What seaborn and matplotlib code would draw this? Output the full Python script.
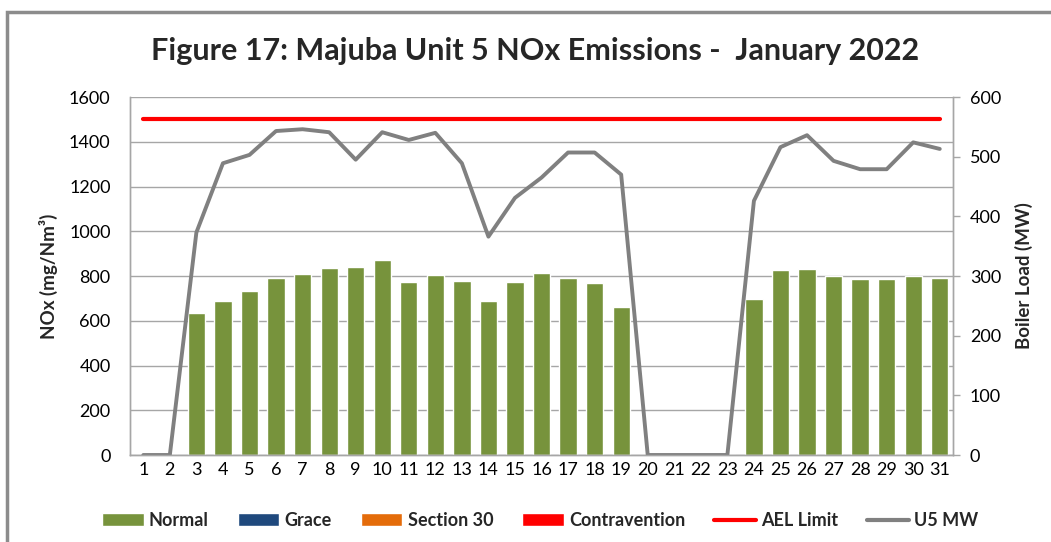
"""Majuba Unit 5 NOx emissions, January 2022: daily NOx bars with boiler load line."""

import matplotlib

matplotlib.use("Agg")
import matplotlib.pyplot as plt
import pandas as pd
import seaborn as sns
from matplotlib.lines import Line2D
from matplotlib.patches import Patch, Rectangle

# --- data ---
days = list(range(1, 32))
nox_normal = [0, 0, 633, 687, 733, 791, 809, 837, 841, 871, 773, 804, 777, 687, 773,
              813, 791, 768, 660, 0, 0, 0, 0, 696, 827, 831, 800, 786, 786, 800, 791]
u5_mw = [0, 0, 373, 489, 503, 543, 546, 541, 495, 541, 528, 540, 489, 366, 431,
         465, 507, 507, 470, 0, 0, 0, 0, 426, 516, 536, 493, 479, 479, 524, 513]
ael_limit = [1500] * 31

nox_ticks = [0, 200, 400, 600, 800, 1000, 1200, 1400, 1600]
mw_ticks = [0, 100, 200, 300, 400, 500, 600]

GREEN = "#77933C"
NAVY = "#1F497D"
ORANGE = "#E46C0A"
RED = "#FF0000"
GREY = "#808080"
GRID = "#A6A6A6"

sns.set_theme(style="white")
plt.rcParams["font.family"] = ["Lato", "DejaVu Sans"]

df = pd.DataFrame({"day": days, "nox": nox_normal, "mw": u5_mw, "ael": ael_limit})

fig = plt.figure(figsize=(10.51, 5.42), dpi=100)
ax = fig.add_axes([0.1237, 0.1605, 0.7831, 0.6605])

sns.barplot(data=df, x="day", y="nox", native_scale=True, color=GREEN,
            saturation=1, width=0.65, ax=ax, zorder=2)
sns.lineplot(data=df, x="day", y="ael", color=RED, linewidth=3.0, ax=ax, zorder=3)

ax2 = ax.twinx()
sns.lineplot(data=df, x="day", y="mw", color=GREY, linewidth=2.8, ax=ax2)

ax.set_xlim(0.5, 31.5)
ax.set_ylim(0, 1600)
ax2.set_ylim(0, 600)
ax.set_xticks(days)
ax.set_xticklabels([str(d) for d in days])
ax.set_yticks(nox_ticks)
ax2.set_yticks(mw_ticks)

ax.yaxis.grid(True, color=GRID, linewidth=1)
ax.set_axisbelow(True)

for a in (ax, ax2):
    a.spines["top"].set_visible(False)
    for side in ("left", "right", "bottom"):
        a.spines[side].set_color(GRID)
        a.spines[side].set_linewidth(1)

ax.tick_params(axis="x", length=0, labelsize=13, pad=5, colors="black")
ax.tick_params(axis="y", length=0, labelsize=13, pad=14, colors="black")
ax2.tick_params(axis="y", length=5, width=1, color=GRID, labelsize=13, pad=7,
                labelcolor="black")

ax.set_xlabel("")
ax.set_ylabel("NOx (mg/Nm³)", fontsize=13.5, fontweight="bold", labelpad=8)
ax2.set_ylabel("Boiler Load (MW)", fontsize=13.5, fontweight="bold", labelpad=10)
ax2.set_xlabel("")

fig.text(0.509, 0.905, "Figure 17: Majuba Unit 5 NOx Emissions -  January 2022",
         ha="center", va="center", fontsize=22, fontweight="bold")

handles = [
    Patch(facecolor=GREEN, label="Normal"),
    Patch(facecolor=NAVY, label="Grace"),
    Patch(facecolor=ORANGE, label="Section 30"),
    Patch(facecolor=RED, label="Contravention"),
    Line2D([0], [0], color=RED, linewidth=3.0, label="AEL Limit"),
    Line2D([0], [0], color=GREY, linewidth=3.0, label="U5 MW"),
]
fig.legend(handles=handles, loc="center", bbox_to_anchor=(0.514, 0.04), ncol=6,
           frameon=False, prop={"weight": "bold", "size": 13},
           handlelength=2.3, handleheight=0.7, handletextpad=0.3, columnspacing=1.6)

# chart-area frame (cropped at right and bottom in the reference)
fig.patches.append(Rectangle((0.0067, -0.2), 1.2, 1.178, transform=fig.transFigure,
                             fill=False, edgecolor="#8C8C8C", linewidth=2.5))

fig.savefig("out.png", dpi=100)
